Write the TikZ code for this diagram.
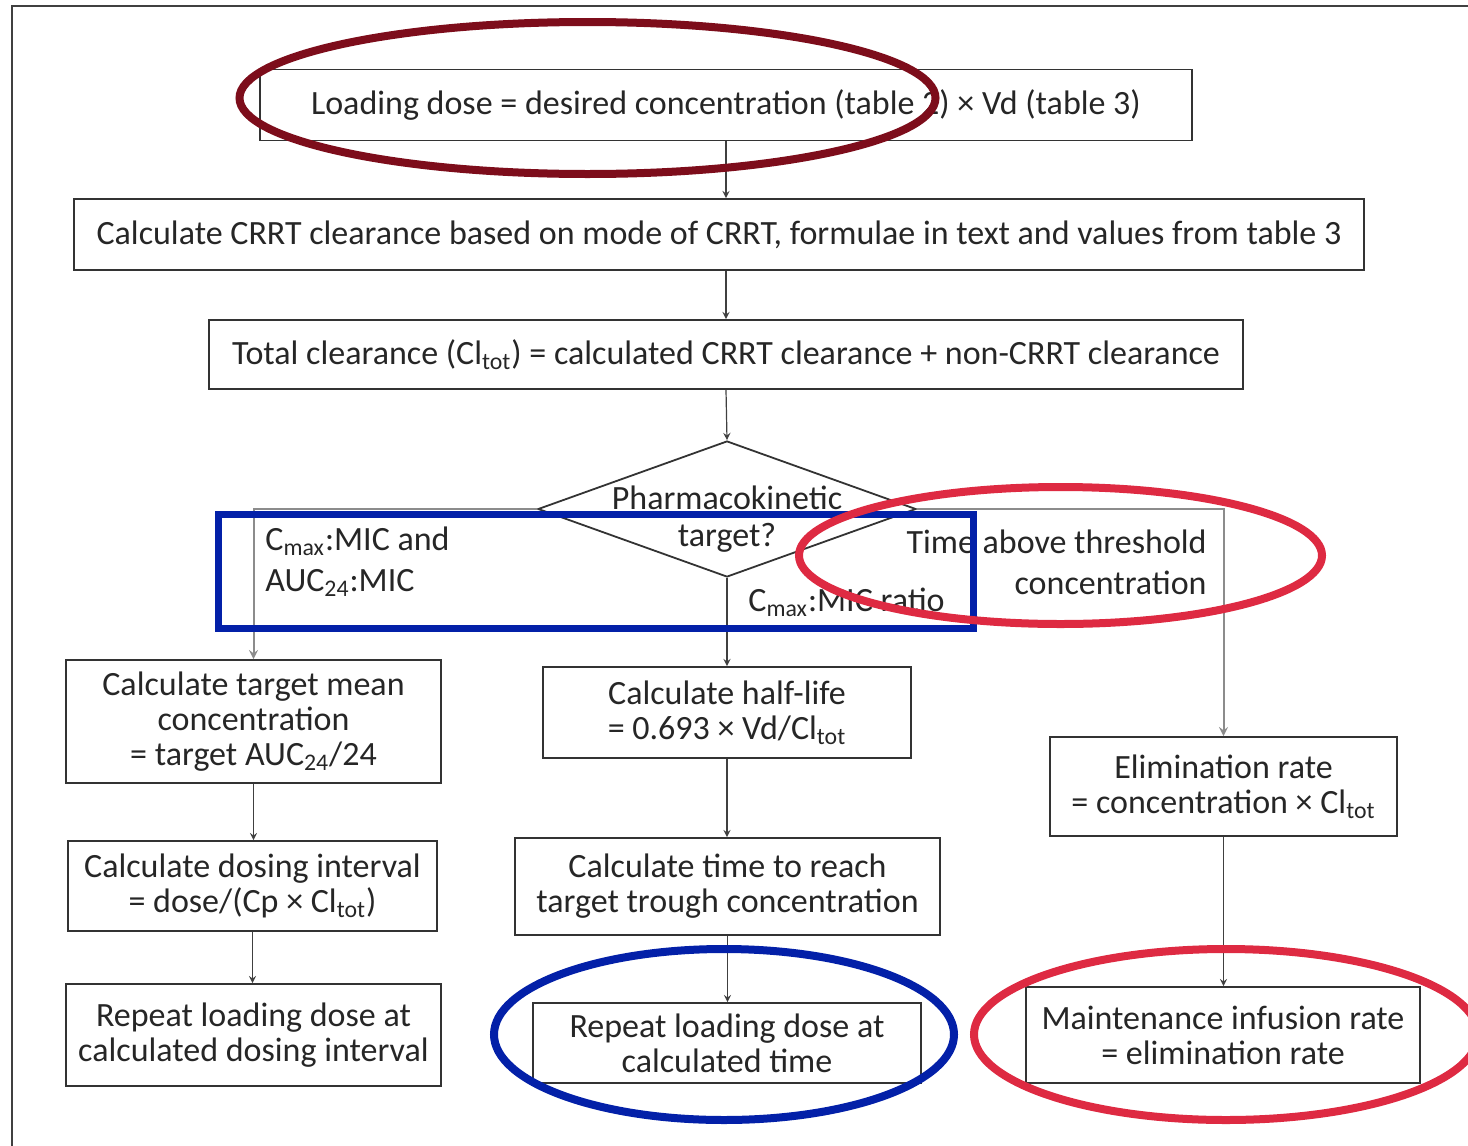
\documentclass[tikz,border=0pt]{standalone}
\usepackage{fontspec}
\setmainfont{Carlito}
\usetikzlibrary{shapes.geometric}
\definecolor{darkred}{HTML}{7D0D1B}
\definecolor{markblue}{HTML}{0320A8}
\definecolor{markred}{HTML}{DE2A42}
\begin{document}
\begin{tikzpicture}[x=0.5pt,y=-0.5pt,
    font=\fontsize{17}{17.5}\selectfont,
    box/.style={draw=black!80,line width=0.9pt,align=center,inner sep=0pt,text=black!85},
    decision/.style={diamond,draw=black!80,line width=0.9pt,inner sep=0pt,minimum width=189pt,minimum height=68pt},
    link/.style={draw=black!75,line width=0.6pt,->,>=stealth},
    branch/.style={draw=black!45,line width=1pt,->,>=stealth},
    lbl/.style={inner sep=0pt,text=black!85},
    ring/.style={line width=4pt}]
      \useasboundingbox (0,0) rectangle (1468,1146);
      \draw [black!75,line width=1pt] (12,1146) -- (12,6) -- (1468,6);

      \node[box,minimum width=466pt,minimum height=35.5pt] (load) at (726,105)
        {Loading dose = desired concentration (table 2) × Vd (table 3)};
      \node[box,minimum width=645pt,minimum height=35.5pt] (crrt) at (719,234.5)
        {Calculate CRRT clearance based on mode of CRRT, formulae in text and values from table 3};
      \node[box,minimum width=517pt,minimum height=34.5pt] (tot) at (726,354.5)
        {Total clearance (Cl\textsubscript{tot}) = calculated CRRT clearance + non-CRRT clearance};
      \node[decision] (pk) at (727,509) {};
      \node[lbl,align=center] (pktext) at (727,519) {Pharmacokinetic\\[1pt]target?};

      \node[lbl,anchor=west,align=left] (auc) at (265,562)
        {C\textsubscript{max}:MIC and\\[3pt]AUC\textsubscript{24}:MIC};
      \node[lbl,anchor=east,align=right] (time) at (1207,562)
        {Time above threshold\\[3pt]concentration};
      \node[lbl,anchor=west] (ratio) at (748,602) {C\textsubscript{max}:MIC ratio};

      \node[box,minimum width=187.5pt,minimum height=61.5pt] (mean) at (253.5,721.5)
        {Calculate target mean\\concentration\\= target AUC\textsubscript{24}/24};
      \node[box,minimum width=184pt,minimum height=45.5pt] (half) at (727,712.5)
        {Calculate half-life\\= 0.693 × Vd/Cl\textsubscript{tot}};
      \node[box,minimum width=173.5pt,minimum height=49.5pt] (elim) at (1223.5,786.5)
        {Elimination rate\\= concentration × Cl\textsubscript{tot}};
      \node[box,minimum width=184.5pt,minimum height=45pt] (dosint) at (252.5,886)
        {Calculate dosing interval\\= dose/(Cp × Cl\textsubscript{tot})};
      \node[box,minimum width=212.5pt,minimum height=48.5pt] (reach) at (727.5,886.5)
        {Calculate time to reach\\target trough concentration};
      \node[box,minimum width=187.5pt,minimum height=51pt] (repint) at (253.5,1035)
        {Repeat loading dose at\\calculated dosing interval};
      \node[box,minimum width=194pt,minimum height=40pt] (reptime) at (727,1043)
        {Repeat loading dose at\\calculated time};
      \node[box,minimum width=197pt,minimum height=48pt] (maint) at (1223,1035)
        {Maintenance infusion rate\\= elimination rate};

      \draw [link] (load.south) -- (load.south |- crrt.north);
      \draw [link] (tot.north |- crrt.south) -- (tot.north);
      \draw [link] (tot.south) -- (pk.north);
      \draw [branch] (pk.west) -| (mean.north);
      \draw [branch] (pk.east) -| (elim.north);
      \draw [link] (pk.south) -- (half.north);
      \draw [link] (mean.south) -- (mean.south |- dosint.north);
      \draw [link] (dosint.south) -- (dosint.south |- repint.north);
      \draw [link] (half.south) -- (half.south |- reach.north);
      \draw [link] (reach.south) -- (reach.south |- reptime.north);
      \draw [link] (elim.south) -- (elim.south |- maint.north);

      \draw [ring,darkred] (587.5,98) ellipse [x radius=174pt,y radius=38pt];
      \draw [markblue,line width=3.5pt] (218,514) rectangle (973,628);
      \draw [ring,markred] (1060.5,555.5) ellipse [x radius=130.75pt,y radius=34.25pt];
      \draw [ring,markblue] (724,1034.5) ellipse [x radius=115pt,y radius=42.75pt];
      \draw [ring,markred] (1226,1034.5) ellipse [x radius=126pt,y radius=42.75pt];
\end{tikzpicture}
\end{document}
